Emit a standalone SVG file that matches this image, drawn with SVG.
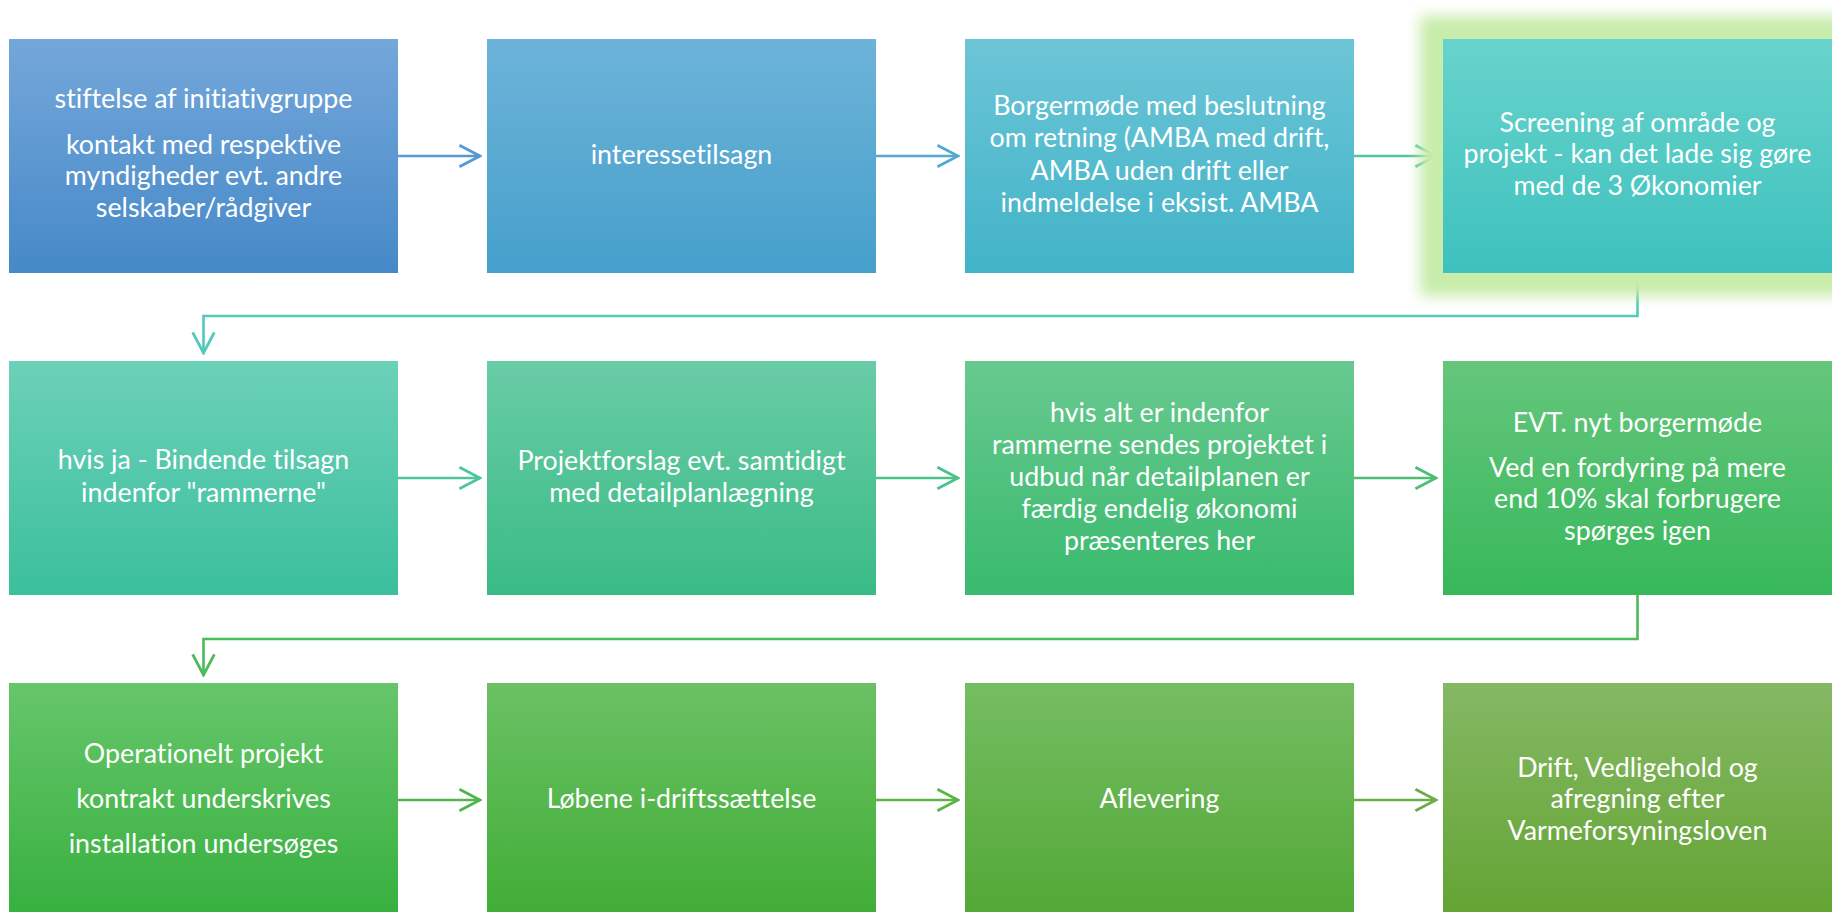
<svg xmlns="http://www.w3.org/2000/svg" width="1832" height="912" viewBox="0 0 1832 912">
<style>
.t{font-family:"Lato","Open Sans","Liberation Sans",sans-serif;font-size:26.8px;fill:#ffffff;text-anchor:middle;font-variant-ligatures:none;font-feature-settings:"liga" 0,"dlig" 0}
.c{fill:none;stroke-width:2.6}
</style>
<defs>
<linearGradient id="g11" x1="0" y1="0" x2="0" y2="1"><stop offset="0" stop-color="#74A7DA"/><stop offset="1" stop-color="#4689C8"/></linearGradient>
<linearGradient id="g12" x1="0" y1="0" x2="0" y2="1"><stop offset="0" stop-color="#6DB3D9"/><stop offset="1" stop-color="#45A0CB"/></linearGradient>
<linearGradient id="g13" x1="0" y1="0" x2="0" y2="1"><stop offset="0" stop-color="#6CC5D7"/><stop offset="1" stop-color="#42B3C8"/></linearGradient>
<linearGradient id="g14" x1="0" y1="0" x2="0" y2="1"><stop offset="0" stop-color="#68D3CC"/><stop offset="1" stop-color="#3EC1BE"/></linearGradient>
<linearGradient id="g21" x1="0" y1="0" x2="0" y2="1"><stop offset="0" stop-color="#6CD1B9"/><stop offset="1" stop-color="#3BBF9C"/></linearGradient>
<linearGradient id="g22" x1="0" y1="0" x2="0" y2="1"><stop offset="0" stop-color="#69CCA6"/><stop offset="1" stop-color="#3ABB86"/></linearGradient>
<linearGradient id="g23" x1="0" y1="0" x2="0" y2="1"><stop offset="0" stop-color="#68C98F"/><stop offset="1" stop-color="#39BA6E"/></linearGradient>
<linearGradient id="g24" x1="0" y1="0" x2="0" y2="1"><stop offset="0" stop-color="#65C67C"/><stop offset="1" stop-color="#37B85B"/></linearGradient>
<linearGradient id="g31" x1="0" y1="0" x2="0" y2="1"><stop offset="0" stop-color="#66C66A"/><stop offset="1" stop-color="#37B03F"/></linearGradient>
<linearGradient id="g32" x1="0" y1="0" x2="0" y2="1"><stop offset="0" stop-color="#6BC164"/><stop offset="1" stop-color="#40AD36"/></linearGradient>
<linearGradient id="g33" x1="0" y1="0" x2="0" y2="1"><stop offset="0" stop-color="#75BD62"/><stop offset="1" stop-color="#52A836"/></linearGradient>
<linearGradient id="g34" x1="0" y1="0" x2="0" y2="1"><stop offset="0" stop-color="#85B864"/><stop offset="1" stop-color="#63A433"/></linearGradient>
<filter id="glow" x="-20%" y="-20%" width="140%" height="140%"><feGaussianBlur stdDeviation="7"/></filter>
<marker id="m1" markerUnits="userSpaceOnUse" markerWidth="26" markerHeight="26" viewBox="-2 -2 24 24" refX="20" refY="10" orient="auto"><path d="M1,0 L20,10 L1,20" fill="none" stroke="#5598D3" stroke-width="2.6"/></marker>
<marker id="m2" markerUnits="userSpaceOnUse" markerWidth="26" markerHeight="26" viewBox="-2 -2 24 24" refX="20" refY="10" orient="auto"><path d="M1,0 L20,10 L1,20" fill="none" stroke="#52AAD3" stroke-width="2.6"/></marker>
<marker id="m3" markerUnits="userSpaceOnUse" markerWidth="26" markerHeight="26" viewBox="-2 -2 24 24" refX="20" refY="10" orient="auto"><path d="M1,0 L20,10 L1,20" fill="none" stroke="#52C3A5" stroke-width="2.6"/></marker>
<marker id="m4" markerUnits="userSpaceOnUse" markerWidth="26" markerHeight="26" viewBox="-2 -2 24 24" refX="20" refY="10" orient="auto"><path d="M1,0 L20,10 L1,20" fill="none" stroke="#52C9BB" stroke-width="2.6"/></marker>
<marker id="m5" markerUnits="userSpaceOnUse" markerWidth="26" markerHeight="26" viewBox="-2 -2 24 24" refX="20" refY="10" orient="auto"><path d="M1,0 L20,10 L1,20" fill="none" stroke="#4EC59F" stroke-width="2.6"/></marker>
<marker id="m6" markerUnits="userSpaceOnUse" markerWidth="26" markerHeight="26" viewBox="-2 -2 24 24" refX="20" refY="10" orient="auto"><path d="M1,0 L20,10 L1,20" fill="none" stroke="#4CC288" stroke-width="2.6"/></marker>
<marker id="m7" markerUnits="userSpaceOnUse" markerWidth="26" markerHeight="26" viewBox="-2 -2 24 24" refX="20" refY="10" orient="auto"><path d="M1,0 L20,10 L1,20" fill="none" stroke="#4ABF72" stroke-width="2.6"/></marker>
<marker id="m8" markerUnits="userSpaceOnUse" markerWidth="26" markerHeight="26" viewBox="-2 -2 24 24" refX="20" refY="10" orient="auto"><path d="M1,0 L20,10 L1,20" fill="none" stroke="#4CBB5A" stroke-width="2.6"/></marker>
<marker id="m9" markerUnits="userSpaceOnUse" markerWidth="26" markerHeight="26" viewBox="-2 -2 24 24" refX="20" refY="10" orient="auto"><path d="M1,0 L20,10 L1,20" fill="none" stroke="#4DB84A" stroke-width="2.6"/></marker>
<marker id="m10" markerUnits="userSpaceOnUse" markerWidth="26" markerHeight="26" viewBox="-2 -2 24 24" refX="20" refY="10" orient="auto"><path d="M1,0 L20,10 L1,20" fill="none" stroke="#5AB447" stroke-width="2.6"/></marker>
<marker id="m11" markerUnits="userSpaceOnUse" markerWidth="26" markerHeight="26" viewBox="-2 -2 24 24" refX="20" refY="10" orient="auto"><path d="M1,0 L20,10 L1,20" fill="none" stroke="#6AAE45" stroke-width="2.6"/></marker>
</defs>
<rect width="1832" height="912" fill="#ffffff"/>

<g id="connectors">
<path class="c" stroke="#5598D3" marker-end="url(#m1)" d="M398,156 H480"/>
<path class="c" stroke="#52AAD3" marker-end="url(#m2)" d="M876,156 H958"/>
<path class="c" stroke="#52C3A5" marker-end="url(#m3)" d="M1354,156 H1436"/>
<path class="c" stroke="#52C9BB" marker-end="url(#m4)" d="M1637.5,273 V316 H203.5 V353"/>
<path class="c" stroke="#4EC59F" marker-end="url(#m5)" d="M398,478 H480"/>
<path class="c" stroke="#4CC288" marker-end="url(#m6)" d="M876,478 H958"/>
<path class="c" stroke="#4ABF72" marker-end="url(#m7)" d="M1354,478 H1436"/>
<path class="c" stroke="#4CBB5A" marker-end="url(#m8)" d="M1637.5,595 V639 H203.5 V675"/>
<path class="c" stroke="#4DB84A" marker-end="url(#m9)" d="M398,800 H480"/>
<path class="c" stroke="#5AB447" marker-end="url(#m10)" d="M876,800 H958"/>
<path class="c" stroke="#6AAE45" marker-end="url(#m11)" d="M1354,800 H1436"/>
</g>

<g id="n1">
<rect x="9" y="39" width="389" height="234" fill="url(#g11)"/>
<text class="t" x="203.5" y="108">stiftelse af initiativgruppe</text>
<text class="t" x="203.5" y="154">kontakt med respektive</text>
<text class="t" x="203.5" y="185">myndigheder evt. andre</text>
<text class="t" x="203.5" y="217">selskaber/rådgiver</text>
</g>
<g id="n2">
<rect x="487" y="39" width="389" height="234" fill="url(#g12)"/>
<text class="t" x="681.5" y="164">interessetilsagn</text>
</g>
<g id="n3">
<rect x="965" y="39" width="389" height="234" fill="url(#g13)"/>
<text class="t" x="1159.5" y="115">Borgermøde med beslutning</text>
<text class="t" x="1159.5" y="147">om retning (AMBA med drift,</text>
<text class="t" x="1159.5" y="180">AMBA uden drift eller</text>
<text class="t" x="1159.5" y="212">indmeldelse i eksist. AMBA</text>
</g>
<g id="n4">
<rect x="1420" y="16" width="435" height="280" fill="#C8ECAA" filter="url(#glow)"/>
<rect x="1443" y="39" width="389" height="234" fill="url(#g14)"/>
<text class="t" x="1637.5" y="132">Screening af område og</text>
<text class="t" x="1637.5" y="163">projekt - kan det lade sig gøre</text>
<text class="t" x="1637.5" y="195">med de 3 Økonomier</text>
</g>
<g id="n5">
<rect x="9" y="361" width="389" height="234" fill="url(#g21)"/>
<text class="t" x="203.5" y="469">hvis ja - Bindende tilsagn</text>
<text class="t" x="203.5" y="502">indenfor "rammerne"</text>
</g>
<g id="n6">
<rect x="487" y="361" width="389" height="234" fill="url(#g22)"/>
<text class="t" x="681.5" y="470">Projektforslag evt. samtidigt</text>
<text class="t" x="681.5" y="502">med detailplanlægning</text>
</g>
<g id="n7">
<rect x="965" y="361" width="389" height="234" fill="url(#g23)"/>
<text class="t" x="1159.5" y="422">hvis alt er indenfor</text>
<text class="t" x="1159.5" y="454">rammerne sendes projektet i</text>
<text class="t" x="1159.5" y="486">udbud når detailplanen er</text>
<text class="t" x="1159.5" y="518">færdig endelig økonomi</text>
<text class="t" x="1159.5" y="550">præsenteres her</text>
</g>
<g id="n8">
<rect x="1443" y="361" width="389" height="234" fill="url(#g24)"/>
<text class="t" x="1637.5" y="432">EVT. nyt borgermøde</text>
<text class="t" x="1637.5" y="477">Ved en fordyring på mere</text>
<text class="t" x="1637.5" y="508">end 10% skal forbrugere</text>
<text class="t" x="1637.5" y="540">spørges igen</text>
</g>
<g id="n9">
<rect x="9" y="683" width="389" height="234" fill="url(#g31)"/>
<text class="t" x="203.5" y="763">Operationelt projekt</text>
<text class="t" x="203.5" y="808">kontrakt underskrives</text>
<text class="t" x="203.5" y="853">installation undersøges</text>
</g>
<g id="n10">
<rect x="487" y="683" width="389" height="234" fill="url(#g32)"/>
<text class="t" x="681.5" y="808">Løbene i-driftssættelse</text>
</g>
<g id="n11">
<rect x="965" y="683" width="389" height="234" fill="url(#g33)"/>
<text class="t" x="1159.5" y="808">Aflevering</text>
</g>
<g id="n12">
<rect x="1443" y="683" width="389" height="234" fill="url(#g34)"/>
<text class="t" x="1637.5" y="777">Drift, Vedligehold og</text>
<text class="t" x="1637.5" y="808">afregning efter</text>
<text class="t" x="1637.5" y="840">Varmeforsyningsloven</text>
</g>
</svg>
